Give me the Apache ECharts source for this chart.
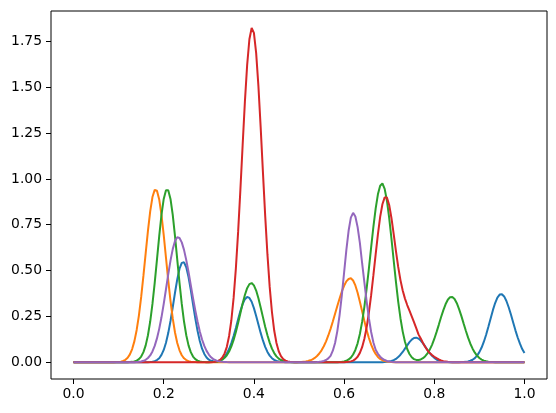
<!DOCTYPE html>
<html>
<head>
<meta charset="utf-8">
<script src="https://cdn.jsdelivr.net/npm/echarts@6/dist/echarts.min.js"></script>
<style>
  html, body { margin: 0; padding: 0; background: #fff; }
  #chart { width: 556px; height: 413px; }
</style>
</head>
<body>
<div id="chart"></div>
<script>
// sample positions along x, step 0.005
var xs = [
  0.000, 0.005, 0.010, 0.015, 0.020, 0.025, 0.030, 0.035, 0.040, 0.045, 0.050, 0.055, 0.060, 0.065, 0.070, 0.075, 0.080, 0.085, 0.090, 0.095,
  0.100, 0.105, 0.110, 0.115, 0.120, 0.125, 0.130, 0.135, 0.140, 0.145, 0.150, 0.155, 0.160, 0.165, 0.170, 0.175, 0.180, 0.185, 0.190, 0.195,
  0.200, 0.205, 0.210, 0.215, 0.220, 0.225, 0.230, 0.235, 0.240, 0.245, 0.250, 0.255, 0.260, 0.265, 0.270, 0.275, 0.280, 0.285, 0.290, 0.295,
  0.300, 0.305, 0.310, 0.315, 0.320, 0.325, 0.330, 0.335, 0.340, 0.345, 0.350, 0.355, 0.360, 0.365, 0.370, 0.375, 0.380, 0.385, 0.390, 0.395,
  0.400, 0.405, 0.410, 0.415, 0.420, 0.425, 0.430, 0.435, 0.440, 0.445, 0.450, 0.455, 0.460, 0.465, 0.470, 0.475, 0.480, 0.485, 0.490, 0.495,
  0.500, 0.505, 0.510, 0.515, 0.520, 0.525, 0.530, 0.535, 0.540, 0.545, 0.550, 0.555, 0.560, 0.565, 0.570, 0.575, 0.580, 0.585, 0.590, 0.595,
  0.600, 0.605, 0.610, 0.615, 0.620, 0.625, 0.630, 0.635, 0.640, 0.645, 0.650, 0.655, 0.660, 0.665, 0.670, 0.675, 0.680, 0.685, 0.690, 0.695,
  0.700, 0.705, 0.710, 0.715, 0.720, 0.725, 0.730, 0.735, 0.740, 0.745, 0.750, 0.755, 0.760, 0.765, 0.770, 0.775, 0.780, 0.785, 0.790, 0.795,
  0.800, 0.805, 0.810, 0.815, 0.820, 0.825, 0.830, 0.835, 0.840, 0.845, 0.850, 0.855, 0.860, 0.865, 0.870, 0.875, 0.880, 0.885, 0.890, 0.895,
  0.900, 0.905, 0.910, 0.915, 0.920, 0.925, 0.930, 0.935, 0.940, 0.945, 0.950, 0.955, 0.960, 0.965, 0.970, 0.975, 0.980, 0.985, 0.990, 0.995,
  1.000
];

var blue = [
  0, 0, 0, 0, 0, 0, 0, 0, 0, 0, 0, 0, 0, 0, 0, 0, 0, 0, 0, 0,
  0, 0, 0, 0, 0, 0, 0, 0, 0, 0, 0, 0.0001, 0.0002, 0.0005, 0.0013, 0.0029, 0.006, 0.012, 0.022, 0.040,
  0.067, 0.106, 0.159, 0.225, 0.300, 0.379, 0.452, 0.510, 0.542, 0.545, 0.518, 0.465, 0.395, 0.316, 0.239, 0.171, 0.116, 0.074, 0.045, 0.026,
  0.014, 0.0077, 0.005, 0.0044, 0.006, 0.0106, 0.018, 0.030, 0.048, 0.072, 0.104, 0.143, 0.187, 0.234, 0.279, 0.317, 0.344, 0.356, 0.351, 0.330,
  0.295, 0.252, 0.206, 0.160, 0.119, 0.084, 0.056, 0.036, 0.022, 0.013, 0.007, 0.004, 0.002, 0.0009, 0.0004, 0.0002, 0, 0, 0, 0,
  0, 0, 0, 0, 0, 0, 0, 0, 0, 0, 0, 0, 0, 0, 0, 0, 0, 0, 0, 0,
  0, 0, 0, 0, 0, 0, 0, 0, 0, 0, 0, 0, 0, 0, 0, 0, 0.0002, 0.0005, 0.001, 0.002,
  0.004, 0.0066, 0.011, 0.018, 0.028, 0.041, 0.056, 0.074, 0.092, 0.110, 0.123, 0.132, 0.134, 0.129, 0.118, 0.103, 0.085, 0.067, 0.050, 0.035,
  0.024, 0.015, 0.009, 0.0053, 0.003, 0.0015, 0.001, 0.0003, 0.0002, 0.0001, 0.0001, 0.0003, 0.0006, 0.0012, 0.002, 0.0044, 0.008, 0.0136, 0.022, 0.036,
  0.055, 0.080, 0.112, 0.150, 0.194, 0.239, 0.284, 0.323, 0.353, 0.369, 0.371, 0.359, 0.334, 0.300, 0.260, 0.217, 0.174, 0.135, 0.101, 0.072,
  0.050
];

var orange = [
  0, 0, 0, 0, 0, 0, 0, 0, 0, 0, 0, 0, 0, 0, 0, 0, 0, 0.0001, 0.0003, 0.0007,
  0.0016, 0.0033, 0.007, 0.013, 0.024, 0.043, 0.072, 0.115, 0.176, 0.256, 0.356, 0.472, 0.595, 0.717, 0.823, 0.901, 0.940, 0.936, 0.888, 0.804,
  0.693, 0.570, 0.447, 0.335, 0.239, 0.162, 0.105, 0.065, 0.038, 0.0215, 0.012, 0.006, 0.003, 0.0013, 0.0006, 0.0002, 0.0001, 0, 0, 0,
  0, 0, 0, 0, 0, 0, 0, 0, 0, 0, 0, 0, 0, 0, 0, 0, 0, 0, 0, 0,
  0, 0, 0, 0, 0, 0, 0, 0, 0, 0, 0, 0, 0, 0, 0, 0, 0, 0.0002, 0.0003, 0.0005,
  0.001, 0.0016, 0.003, 0.0043, 0.007, 0.0105, 0.016, 0.0235, 0.034, 0.0475, 0.065, 0.087, 0.114, 0.146, 0.182, 0.222, 0.264, 0.307, 0.348, 0.386,
  0.417, 0.441, 0.454, 0.458, 0.446, 0.419, 0.379, 0.330, 0.278, 0.225, 0.175, 0.132, 0.096, 0.067, 0.045, 0.029, 0.018, 0.011, 0.006, 0.0035,
  0.002, 0.001, 0.0005, 0.0002, 0, 0, 0, 0, 0, 0, 0, 0, 0, 0, 0, 0, 0, 0, 0, 0,
  0, 0, 0, 0, 0, 0, 0, 0, 0, 0, 0, 0, 0, 0, 0, 0, 0, 0, 0, 0,
  0, 0, 0, 0, 0, 0, 0, 0, 0, 0, 0, 0, 0, 0, 0, 0, 0, 0, 0, 0,
  0
];

var green = [
  0, 0, 0, 0, 0, 0, 0, 0, 0, 0, 0, 0, 0, 0, 0, 0, 0, 0, 0, 0,
  0, 0, 0, 0.0001, 0.0004, 0.0008, 0.002, 0.0042, 0.009, 0.017, 0.031, 0.055, 0.092, 0.147, 0.222, 0.318, 0.433, 0.560, 0.688, 0.804,
  0.891, 0.938, 0.938, 0.891, 0.804, 0.688, 0.560, 0.433, 0.318, 0.222, 0.147, 0.092, 0.055, 0.031, 0.017, 0.0086, 0.004, 0.0019, 0.001, 0.0005,
  0.0004, 0.0006, 0.0012, 0.0024, 0.0045, 0.0082, 0.014, 0.024, 0.038, 0.058, 0.086, 0.122, 0.165, 0.214, 0.267, 0.320, 0.367, 0.404, 0.426, 0.432,
  0.419, 0.391, 0.349, 0.299, 0.246, 0.194, 0.147, 0.107, 0.074, 0.050, 0.032, 0.0195, 0.012, 0.0065, 0.0035, 0.0018, 0.0009, 0.0004, 0.0002, 0.0001,
  0, 0, 0, 0, 0, 0, 0, 0, 0, 0, 0, 0, 0, 0, 0, 0, 0.0002, 0.0005, 0.001, 0.0022,
  0.004, 0.008, 0.015, 0.025, 0.042, 0.067, 0.103, 0.154, 0.220, 0.302, 0.401, 0.511, 0.626, 0.739, 0.838, 0.916, 0.963, 0.975, 0.946, 0.881,
  0.788, 0.675, 0.555, 0.438, 0.331, 0.240, 0.167, 0.112, 0.072, 0.045, 0.027, 0.017, 0.0125, 0.012, 0.015, 0.022, 0.033, 0.048, 0.069, 0.095,
  0.127, 0.164, 0.204, 0.245, 0.283, 0.316, 0.341, 0.355, 0.356, 0.345, 0.322, 0.290, 0.253, 0.212, 0.172, 0.134, 0.101, 0.074, 0.052, 0.035,
  0.023, 0.0145, 0.009, 0.005, 0.003, 0.0016, 0.0008, 0.0004, 0.0002, 0.0001, 0, 0, 0, 0, 0, 0, 0, 0, 0, 0,
  0
];

var red = [
  0, 0, 0, 0, 0, 0, 0, 0, 0, 0, 0, 0, 0, 0, 0, 0, 0, 0, 0, 0,
  0, 0, 0, 0, 0, 0, 0, 0, 0, 0, 0, 0, 0, 0, 0, 0, 0, 0, 0, 0,
  0, 0, 0, 0, 0, 0, 0, 0, 0, 0, 0, 0, 0, 0, 0, 0, 0, 0, 0, 0.0001,
  0.0002, 0.0005, 0.0013, 0.003, 0.006, 0.013, 0.026, 0.048, 0.084, 0.143, 0.229, 0.351, 0.512, 0.711, 0.940, 1.184, 1.420, 1.621, 1.762, 1.823,
  1.797, 1.686, 1.506, 1.281, 1.037, 0.800, 0.588, 0.411, 0.274, 0.173, 0.105, 0.060, 0.033, 0.017, 0.0085, 0.004, 0.002, 0.0008, 0.0003, 0.0001,
  0, 0, 0, 0, 0, 0, 0, 0, 0, 0, 0, 0, 0, 0, 0, 0, 0, 0, 0, 0,
  0, 0.001, 0.002, 0.0046, 0.009, 0.017, 0.030, 0.051, 0.082, 0.128, 0.190, 0.270, 0.366, 0.475, 0.588, 0.698, 0.793, 0.862, 0.899, 0.898,
  0.858, 0.787, 0.699, 0.606, 0.520, 0.448, 0.391, 0.347, 0.312, 0.281, 0.250, 0.219, 0.186, 0.152, 0.130, 0.105, 0.083, 0.065, 0.050, 0.039,
  0.030, 0.022, 0.015, 0.010, 0.006, 0.004, 0.002, 0.001, 0, 0, 0, 0, 0, 0, 0, 0, 0, 0, 0, 0,
  0, 0, 0, 0, 0, 0, 0, 0, 0, 0, 0, 0, 0, 0, 0, 0, 0, 0, 0, 0,
  0
];

var purple = [
  0, 0, 0, 0, 0, 0, 0, 0, 0, 0, 0, 0, 0, 0, 0, 0, 0, 0, 0, 0,
  0, 0, 0, 0, 0.0001, 0.0001, 0.0002, 0.0005, 0.001, 0.0022, 0.004, 0.0076, 0.013, 0.023, 0.037, 0.059, 0.089, 0.130, 0.182, 0.245,
  0.318, 0.398, 0.479, 0.554, 0.617, 0.661, 0.682, 0.678, 0.654, 0.613, 0.557, 0.492, 0.421, 0.350, 0.283, 0.222, 0.168, 0.124, 0.089, 0.062,
  0.042, 0.027, 0.017, 0.011, 0.006, 0.0038, 0.002, 0.0012, 0.0006, 0.0003, 0.0002, 0, 0, 0, 0, 0, 0, 0, 0, 0,
  0, 0, 0, 0, 0, 0, 0, 0, 0, 0, 0, 0, 0, 0, 0, 0, 0, 0, 0, 0,
  0, 0, 0, 0, 0, 0, 0, 0.0005, 0.001, 0.002, 0.004, 0.007, 0.012, 0.021, 0.035, 0.063, 0.105, 0.170, 0.257, 0.366,
  0.488, 0.611, 0.717, 0.789, 0.815, 0.795, 0.737, 0.651, 0.540, 0.436, 0.332, 0.240, 0.165, 0.108, 0.068, 0.046, 0.030, 0.019, 0.012, 0.007,
  0.004, 0.002, 0.001, 0.0005, 0, 0, 0, 0, 0, 0, 0, 0, 0, 0, 0, 0, 0, 0, 0, 0,
  0, 0, 0, 0, 0, 0, 0, 0, 0, 0, 0, 0, 0, 0, 0, 0, 0, 0, 0, 0,
  0, 0, 0, 0, 0, 0, 0, 0, 0, 0, 0, 0, 0, 0, 0, 0, 0, 0, 0, 0,
  0
];

var xTicks = [0, 0.2, 0.4, 0.6, 0.8, 1.0];
var yTicks = [0, 0.25, 0.5, 0.75, 1.0, 1.25, 1.5, 1.75];

function pairs(ys) {
  return xs.map(function (x, i) { return [x, ys[i]]; });
}

function line(name, color, ys) {
  return {
    name: name,
    type: "line",
    data: pairs(ys),
    showSymbol: false,
    lineStyle: { color: color, width: 2 },
    itemStyle: { color: color }
  };
}

// quick sanity check on array lengths
var bad = [blue, orange, green, red, purple].map(function (a) { return a.length; })
  .filter(function (n) { return n !== xs.length; });

var chart = echarts.init(document.getElementById("chart"));
chart.setOption({
  animation: false,
  backgroundColor: "#fff",
  title: { show: bad.length > 0, text: "len " + bad.join(",") },
  grid: {
    left: 51,
    right: 9,
    top: 11,
    bottom: 34,
    show: true,
    borderColor: "#000",
    borderWidth: 1
  },
  xAxis: {
    type: "value",
    min: -0.05,
    max: 1.05,
    axisLine: { show: false, onZero: false },
    splitLine: { show: false },
    axisTick: {
      show: true,
      customValues: xTicks,
      length: 5,
      lineStyle: { color: "#000" }
    },
    axisLabel: {
      customValues: xTicks,
      formatter: function (v) { return v.toFixed(1); },
      color: "#000",
      fontFamily: "DejaVu Sans",
      fontSize: 13.9,
      margin: 8
    }
  },
  yAxis: {
    type: "value",
    min: -0.0915,
    max: 1.916,
    axisLine: { show: false, onZero: false },
    splitLine: { show: false },
    axisTick: {
      show: true,
      customValues: yTicks,
      length: 5,
      lineStyle: { color: "#000" }
    },
    axisLabel: {
      customValues: yTicks,
      formatter: function (v) { return v.toFixed(2); },
      color: "#000",
      fontFamily: "DejaVu Sans",
      fontSize: 13.9,
      margin: 9
    }
  },
  series: [
    line("blue", "#1f77b4", blue),
    line("orange", "#ff7f0e", orange),
    line("green", "#2ca02c", green),
    line("red", "#d62728", red),
    line("purple", "#9467bd", purple)
  ]
});
</script>
</body>
</html>
